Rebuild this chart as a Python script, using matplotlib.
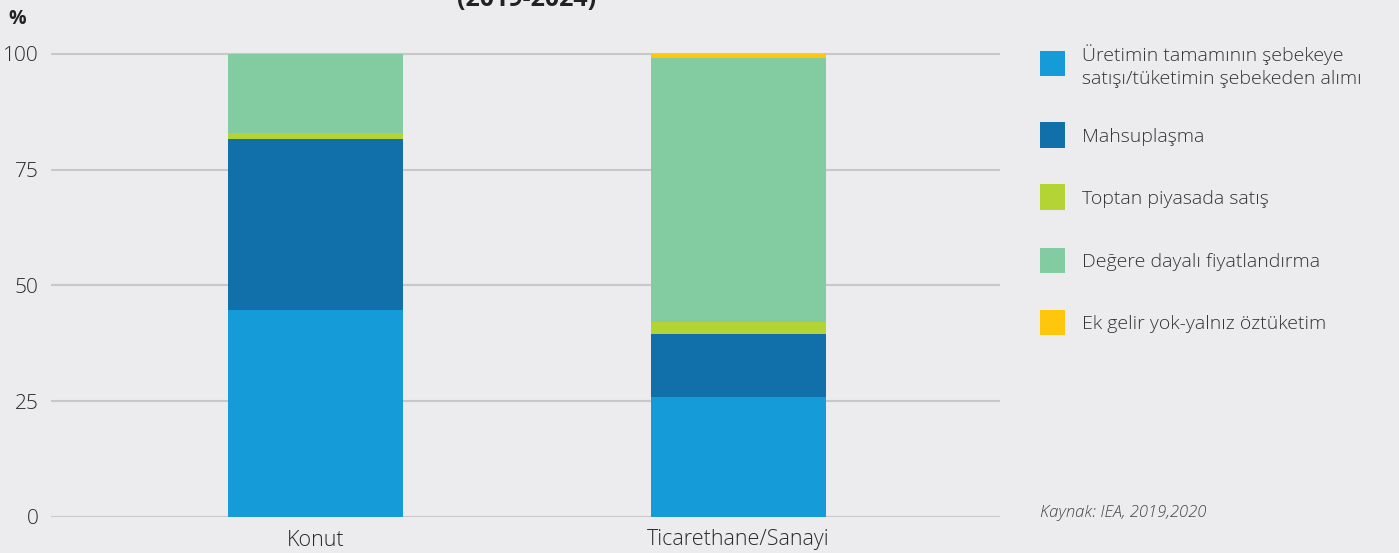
import matplotlib
matplotlib.use("Agg")
import matplotlib.pyplot as plt
from matplotlib.patches import Rectangle

categories = ["Konut", "Ticarethane/Sanayi"]
series_names = [
    "Üretimin tamamının şebekeye\nsatışı/tüketimin şebekeden alımı",
    "Mahsuplaşma",
    "Toptan piyasada satış",
    "Değere dayalı fiyatlandırma",
    "Ek gelir yok-yalnız öztüketim",
]
series_values = [
    [44.7, 25.9],
    [36.9, 13.7],
    [1.2, 2.6],
    [17.2, 56.9],
    [0.0, 0.9],
]
colors = ["#159bd8", "#1170aa", "#b4d334", "#83cba0", "#ffc70c"]
yticks = [0, 25, 50, 75, 100]

bg = "#ececee"
plt.rcParams['font.family'] = ['Open Sans', 'DejaVu Sans']

W, H = 1399, 553
fig = plt.figure(figsize=(W / 100, H / 100), dpi=100, facecolor=bg)

ax_l, ax_r = 51, 1000
ax_b, ax_t = 517, 40
ax = fig.add_axes([ax_l / W, 1 - ax_b / H, (ax_r - ax_l) / W, (ax_b - ax_t) / H])
ax.set_facecolor(bg)

x = list(range(len(categories)))
bottoms = [0.0] * len(categories)
for vals, col in zip(series_values, colors):
    ax.bar(x, vals, bottom=bottoms, width=0.414, color=col, zorder=3, linewidth=0)
    bottoms = [b + v for b, v in zip(bottoms, vals)]

ax.set_xlim(-0.625, 1.618)
ax.set_ylim(0, (ax_b - ax_t) / 4.632)
ax.set_yticks(yticks)
ax.set_yticklabels([str(t) for t in yticks], fontsize=15, color="#2a2a2a", fontweight='light')
ax.set_xticks(x)
ax.set_xticklabels(categories, fontsize=15.5, color="#2a2a2a", fontweight='light')
ax.tick_params(axis='both', length=0)
ax.tick_params(axis='y', pad=9)
ax.tick_params(axis='x', pad=9)
ax.grid(axis='y', color="#c8c8ca", linewidth=1.5, zorder=1)
for s in ax.spines.values():
    s.set_visible(False)

# % label
fig.text(8 / W, 1 - 19 / H, "%", fontsize=14, fontweight='bold', color="#222222",
         ha='left', va='center')
# title, cut off at the top edge as in the reference
fig.text(527 / W, 1 + 1 / H, "(2019-2024)", fontsize=18, fontweight='bold', color="#222222",
         ha='center', va='center')

# legend
centers = [64, 135, 197, 260, 322]
bs = 25
for name, col, cy in zip(series_names, colors, centers):
    fig.patches.append(Rectangle((1040 / W, 1 - (cy + bs / 2) / H), bs / W, bs / H,
                                 transform=fig.transFigure, facecolor=col, edgecolor='none'))
    fig.text(1082 / W, 1 - (cy + 2) / H, name, fontsize=14, color="#333333",
             fontweight='light', ha='left', va='center', linespacing=1.3)

fig.text(1040 / W, 1 - 513 / H, "Kaynak: IEA, 2019,2020", fontsize=12, style='italic',
         color="#444444", fontweight='light', ha='left', va='center')

fig.savefig("out.png", dpi=100, facecolor=bg)
